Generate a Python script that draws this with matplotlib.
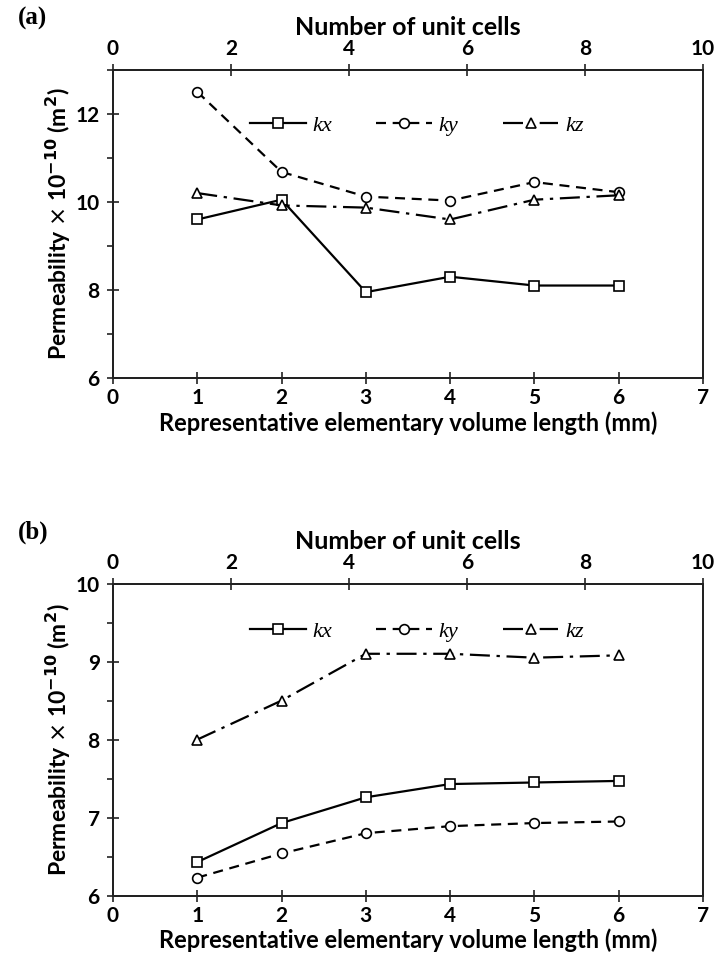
import matplotlib
matplotlib.use("Agg")
import matplotlib.pyplot as plt
from matplotlib.ticker import MultipleLocator

# data (REV length in mm, permeability x 1e-10 m^2)
rev_length = [1, 2, 3, 4, 5, 6]

a_kx = [9.60, 10.05, 7.95, 8.30, 8.10, 8.10]
a_ky = [12.50, 10.68, 10.12, 10.03, 10.45, 10.22]
a_kz = [10.20, 9.92, 9.87, 9.60, 10.05, 10.15]

b_kx = [6.43, 6.93, 7.26, 7.43, 7.45, 7.47]
b_ky = [6.23, 6.54, 6.80, 6.89, 6.93, 6.95]
b_kz = [8.00, 8.50, 9.10, 9.10, 9.05, 9.08]

series_names = ["kx", "ky", "kz"]

FONT = ["Lato", "DejaVu Sans"]
COL = "#222222"

fig = plt.figure(figsize=(7.22, 9.63), dpi=100)


def make_panel(rect, kx, ky, kz, ylim, major, minor, tag, leg_y):
    ax = fig.add_axes(rect)
    styles = [("-", "s"), ((0, (4.5, 3)), "o"), ((0, (9, 3, 1.5, 3)), "^")]
    for vals, (ls, mk), name in zip([kx, ky, kz], styles, series_names):
        ax.plot(rev_length, vals, color="black", linestyle=ls, linewidth=1.6,
                marker=mk, markersize=7, markerfacecolor="white",
                markeredgecolor="black", markeredgewidth=1.2, label=name)
    ax.set_xlim(0, 7)
    ax.set_ylim(*ylim)
    ax.xaxis.set_major_locator(MultipleLocator(1))
    ax.yaxis.set_major_locator(MultipleLocator(major))
    ax.yaxis.set_minor_locator(MultipleLocator(minor))
    ax.tick_params(axis="both", which="major", direction="inout", length=9,
                   width=1.2, color=COL, labelsize=15, pad=5)
    ax.tick_params(axis="x", which="major", pad=3)
    ax.tick_params(axis="y", which="minor", direction="out", length=4,
                   width=1.2, color=COL)
    for s in ax.spines.values():
        s.set_color(COL)
        s.set_linewidth(1.4)
    for lab in ax.get_xticklabels() + ax.get_yticklabels():
        lab.set_fontfamily(FONT)
        lab.set_fontweight("bold")
    ax.set_xlabel("Representative elementary volume length (mm)",
                  family=FONT, fontweight="bold", fontsize=17, labelpad=2)
    ax.set_ylabel(r"Permeability $\times$ 10$^{\mathbf{-10}}$ (m$^{\mathbf{2}}$)",
                  family=FONT, fontweight="bold", fontsize=16.5, labelpad=2)

    top = ax.twiny()
    top.set_xlim(0, 10)
    top.xaxis.set_major_locator(MultipleLocator(2))
    top.tick_params(axis="x", which="major", direction="inout", length=9,
                    width=1.2, color=COL, labelsize=15, pad=3)
    for lab in top.get_xticklabels():
        lab.set_fontfamily(FONT)
        lab.set_fontweight("bold")
    for s in top.spines.values():
        s.set_color(COL)
        s.set_linewidth(1.4)
    top.set_xlabel("Number of unit cells", family=FONT,
                   fontweight="bold", fontsize=18, labelpad=3)

    ax.legend(loc="center", bbox_to_anchor=(0.515, leg_y), ncol=3,
              frameon=False, handlelength=2.5, columnspacing=2.0,
              handletextpad=0.3,
              prop={"family": "Liberation Serif", "style": "italic", "size": 16})
    fig.text(0.025, rect[1] + rect[3] + 0.053, tag, family="Liberation Serif",
             fontweight="bold", fontsize=18, va="center")
    return ax


make_panel([0.1565, 0.6075, 0.8172, 0.32], a_kx, a_ky, a_kz, (6, 13), 2, 1,
           "(a)", 0.82)
make_panel([0.1565, 0.07, 0.8172, 0.324], b_kx, b_ky, b_kz, (6, 10), 1, 0.5,
           "(b)", 0.845)

fig.savefig("out.png", dpi=100)
